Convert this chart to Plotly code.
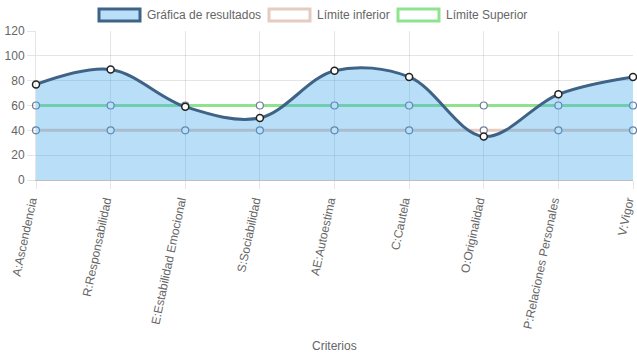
import plotly.graph_objects as go

categorias = ["A:Ascendencia", "R:Responsabilidad", "E:Estabilidad Emocional", "S:Sociabilidad",
              "AE:Autoestima", "C:Cautela", "O:Originalidad", "P:Relaciones Personales", "V:Vigor"]
resultados = [77, 89, 59, 50, 88, 83, 35, 69, 83]
limite_inferior = [40, 40, 40, 40, 40, 40, 40, 40, 40]
limite_superior = [60, 60, 60, 60, 60, 60, 60, 60, 60]
y_ticks = [0, 20, 40, 60, 80, 100, 120]
series_nombres = ["Gráfica de resultados", "Límite inferior", "Límite Superior"]

W, H = 637, 359
ML, MR, MT, MB = 36, 4, 31, 179
PW, PH = W - ML - MR, H - MT - MB

def px_x(p):
    return (p - ML) / PW

def px_y(p):
    return (H - MB - p) / PH

xs = list(range(len(categorias)))

fig = go.Figure()
fig.add_trace(go.Scatter(
    x=xs, y=limite_inferior, name=series_nombres[1], mode="lines+markers",
    line=dict(color="#e6cbc0", width=3), cliponaxis=False,
    marker=dict(size=7, color="white", line=dict(color="#6b7f99", width=1.2)),
))
fig.add_trace(go.Scatter(
    x=xs, y=limite_superior, name=series_nombres[2], mode="lines+markers",
    line=dict(color="#8fe38f", width=3), cliponaxis=False,
    marker=dict(size=7, color="white", line=dict(color="#6b7f99", width=1.2)),
))
fig.add_trace(go.Scatter(
    x=xs, y=resultados, name=series_nombres[0], mode="lines+markers",
    line=dict(color="#3e6387", width=3, shape="spline", smoothing=1.0),
    fill="tozeroy", fillcolor="rgba(54,162,235,0.35)", cliponaxis=False,
    marker=dict(size=7, color="white", line=dict(color="#222222", width=1.5)),
))

# custom Chart.js-style legend (boxes + text)
leg_boxes = [(99, 140), (269, 310), (398, 439)]
leg_fill = ["rgba(54,162,235,0.35)", "white", "white"]
leg_line = ["#3e6387", "#e6cbc0", "#8fe38f"]
shapes = []
annotations = []
for (x0, x1), fc, lc, name in zip(leg_boxes, leg_fill, leg_line, series_nombres):
    shapes.append(dict(type="rect", xref="paper", yref="paper",
                       x0=px_x(x0), x1=px_x(x1), y0=px_y(21), y1=px_y(9),
                       fillcolor=fc, line=dict(color=lc, width=3), layer="above"))
    annotations.append(dict(text=name, xref="paper", yref="paper",
                            x=px_x(x1 + 5), y=px_y(15), xanchor="left", yanchor="middle",
                            showarrow=False, font=dict(size=12, color="#666666")))
annotations.append(dict(text="Criterios", xref="paper", yref="paper",
                        x=px_x((ML + W - MR) / 2), y=px_y(346), xanchor="center", yanchor="middle",
                        showarrow=False, font=dict(size=12, color="#666666")))

fig.update_layout(
    width=W, height=H,
    margin=dict(l=ML, r=MR, t=MT, b=MB),
    paper_bgcolor="white", plot_bgcolor="white",
    font=dict(family="Liberation Sans, Arial, sans-serif", size=12, color="#666666"),
    showlegend=False, hovermode=False,
    shapes=shapes, annotations=annotations,
    xaxis=dict(
        range=[0, len(categorias) - 1], automargin=False,
        tickmode="array", tickvals=xs, ticktext=categorias, tickangle=-78,
        ticklabelshift=-5,
        showgrid=True, gridcolor="rgba(0,0,0,0.1)", gridwidth=1,
        ticks="outside", ticklen=8, tickcolor="rgba(0,0,0,0.1)",
        showline=True, linecolor="rgba(0,0,0,0.25)", linewidth=1,
        zeroline=False,
    ),
    yaxis=dict(
        range=[0, 120], tickmode="array", tickvals=y_ticks, automargin=False,
        showgrid=True, gridcolor="rgba(0,0,0,0.1)", gridwidth=1,
        ticks="outside", ticklen=8, tickcolor="rgba(0,0,0,0.1)",
        showline=True, linecolor="rgba(0,0,0,0.1)",
        zeroline=False,
    ),
)

fig.write_html("out.html", config={"displayModeBar": False, "staticPlot": True},
               post_script="document.body.style.margin='0';document.body.style.overflow='hidden';")
